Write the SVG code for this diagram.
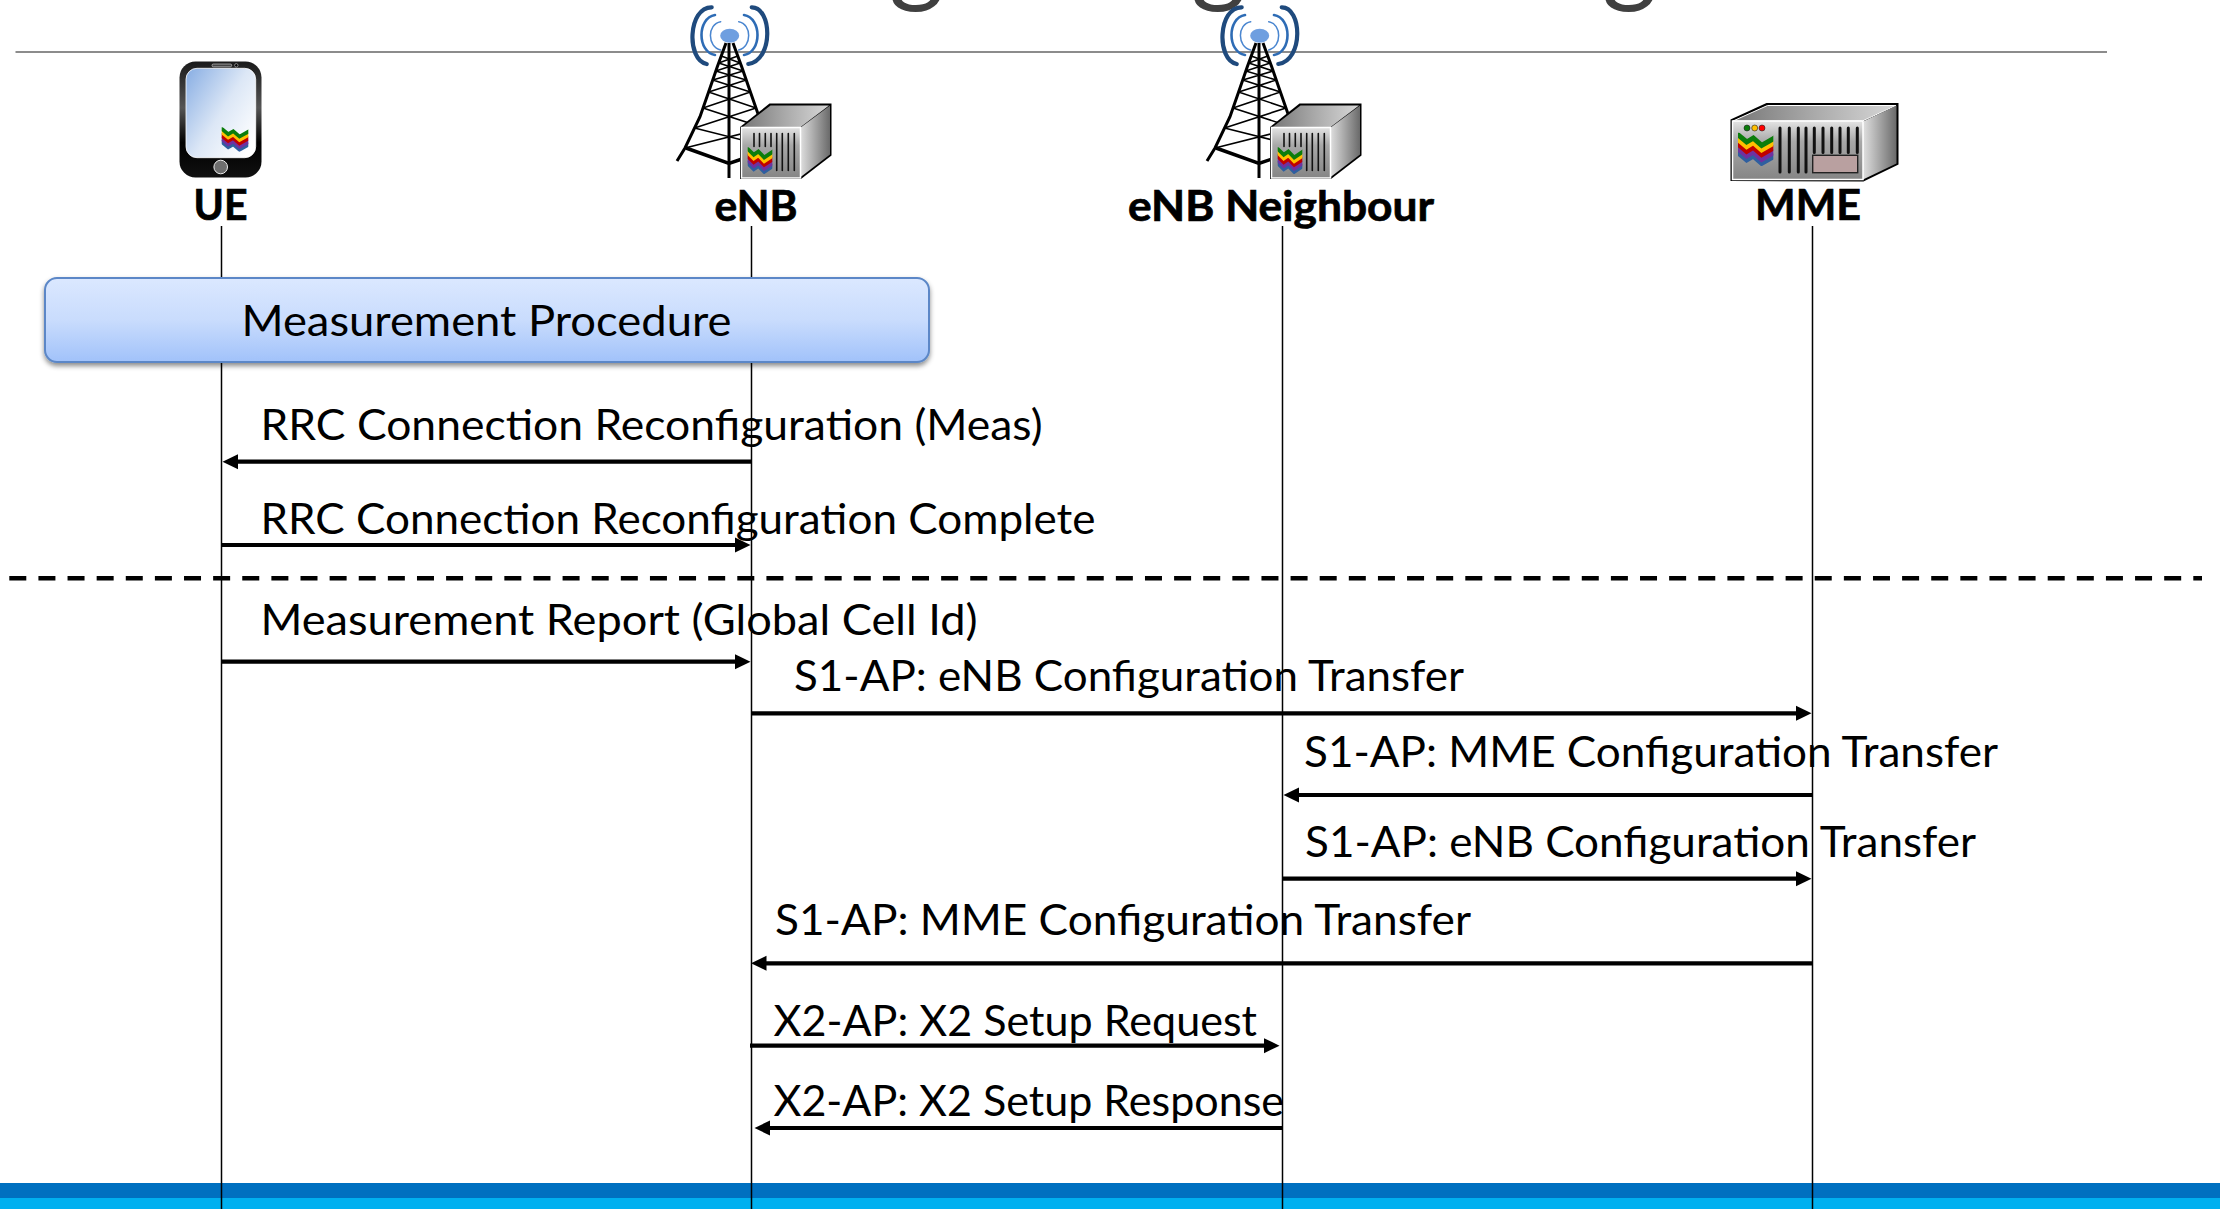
<svg xmlns="http://www.w3.org/2000/svg" xmlns:xlink="http://www.w3.org/1999/xlink" width="2220" height="1209" viewBox="0 0 2220 1209">
<style>
text{font-family:"Lato","Liberation Sans",sans-serif;fill:#000}
.lbl{font-size:42px}
.nm{font-size:42px;font-weight:700;stroke:#000;stroke-width:0.7px}
.title{font-size:106px;fill:#404040}
.life{stroke:#000;stroke-width:1.5;fill:none}
.arr{stroke:#000;stroke-width:4.2;fill:none}
.r{marker-end:url(#head)}
.slot{stroke:#111;fill:none;stroke-linecap:round}
.face{stroke:none}
</style>
<defs>
<marker id="head" markerUnits="userSpaceOnUse" markerWidth="16" markerHeight="16" refX="5" refY="8" orient="auto"><path d="M0,0.5 L15.5,8 L0,15.5 z" fill="#000"/></marker>
<linearGradient id="boxG" x1="0" y1="0" x2="0" y2="1"><stop offset="0" stop-color="#dbe8ff"/><stop offset="0.5" stop-color="#c9dcfd"/><stop offset="1" stop-color="#a1c2fa"/></linearGradient>
<linearGradient id="screenG" x1="0" y1="0" x2="1" y2="0.8"><stop offset="0" stop-color="#87ade3"/><stop offset="0.55" stop-color="#dce7f6"/><stop offset="1" stop-color="#fff"/></linearGradient>
<linearGradient id="phoneG" x1="0" y1="0" x2="0" y2="1"><stop offset="0" stop-color="#1a1a1a"/><stop offset="0.4" stop-color="#555"/><stop offset="0.7" stop-color="#000"/><stop offset="1" stop-color="#111"/></linearGradient>
<linearGradient id="topG" x1="0" y1="0" x2="1" y2="0"><stop offset="0" stop-color="#777"/><stop offset="0.5" stop-color="#aaa"/><stop offset="1" stop-color="#d8d8d8"/></linearGradient>
<linearGradient id="sideG" x1="0" y1="0" x2="1" y2="0"><stop offset="0" stop-color="#e0e0e0"/><stop offset="1" stop-color="#6a6a6a"/></linearGradient>
<linearGradient id="frontG" x1="0" y1="0" x2="0" y2="1"><stop offset="0" stop-color="#e4e4e4"/><stop offset="0.35" stop-color="#a8a8a8"/><stop offset="1" stop-color="#858585"/></linearGradient>
<filter id="sh" x="-3%" y="-10%" width="106%" height="125%"><feDropShadow dx="0" dy="3" stdDeviation="2.5" flood-color="#000" flood-opacity="0.45"/></filter>
<symbol id="wave" viewBox="0 0 106 100" preserveAspectRatio="none">
<g fill="none" stroke-width="15" stroke-linejoin="miter">
<path stroke="#2f5f9f" d="M-10,54 L0,60 L26,82 L46,70 L71,92 L106,72 L116,66"/>
<path stroke="#7030a0" d="M-10,42 L0,48 L26,70 L46,58 L71,80 L106,60 L116,54"/>
<path stroke="#c00000" d="M-10,28 L0,34 L26,56 L46,44 L71,66 L106,46 L116,40"/>
<path stroke="#ffc000" d="M-10,14 L0,20 L26,42 L46,30 L71,52 L106,32 L116,26"/>
<path stroke="#0b7d0b" d="M-10,0 L0,6 L26,28 L46,16 L71,38 L106,18 L116,12"/>
</g>
</symbol>
<g id="tower">
<path fill="none" stroke="#000" stroke-width="3" d="M726,43 L717.3,66.7 L710,88 L700,116.7 L685,148 L677,161"/>
<path fill="none" stroke="#000" stroke-width="3" d="M733,43 L741.7,66.7 L749,88 L759,116.7 L770,140"/>
<path fill="none" stroke="#000" stroke-width="1.6" d="M721.2,56 L740.3,63 M737.8,56 L718.7,63 M718.7,63 L743.2,71 M740.3,63 L715.8,71 M715.8,71 L746.2,80 M743.2,71 L712.8,80 M712.8,80 L750.4,92 M746.2,80 L708.6,92 M708.6,92 L756,108 M750.4,92 L703,108 M703,108 L764.5,128 M756,108 L694.5,128 M694.5,128 L774,148 M764.5,128 L685,148"/>
<path fill="none" stroke="#000" stroke-width="3" d="M729,43 V178"/>
<path fill="none" stroke="#000" stroke-width="3.5" d="M686,148 L729,163.3 L745,158"/>
<ellipse cx="729.7" cy="35.7" rx="9.5" ry="7" fill="#6f9fe0"/>
<g fill="none" stroke-linecap="round">
<path stroke="#4a86d0" stroke-width="1.5" d="M720.7,21.7 C707,24 707,47 720.7,50 M738.7,21.7 C752,24 752,47 738.7,50"/>
<path stroke="#2e6cb5" stroke-width="2.6" d="M715,15 C697,18 697,52 715,55 M744,15 C762,18 762,52 744,55"/>
<path stroke="#1f4a7d" stroke-width="4.2" d="M711.7,7.3 C688,7 686,60 706.7,64 M751.7,7.3 C772,7 774,60 748.3,64"/>
</g>
<path class="face" fill="#000" d="M740,179 V127 L769.5,103.5 H831.5 V155.5 L801,179 z"/>
<path class="face" fill="url(#topG)" d="M742,127.5 L770.5,105.5 H829 L800,127.5 z" stroke="#fff"/>
<path class="face" fill="url(#sideG)" d="M800,128 L830,105.5 V154.5 L800,177.5 z"/>
<rect x="741.5" y="127.5" width="59" height="50.5" fill="url(#frontG)" stroke="#fff" stroke-width="1.5"/>
<path class="slot" stroke-width="1.6" d="M754,133.5 V146.5 M759.5,133.5 V146.5 M765.3,133.5 V146.5 M771,133.5 V146.5 M776.7,133.5 V170.5 M782.3,133.5 V170.5 M788.3,133.5 V170.5 M794.3,133.5 V170.5"/>
<use xlink:href="#wave" href="#wave" x="747.7" y="147.3" width="24.6" height="26.7"/>
</g>
</defs>
<rect width="2220" height="1209" fill="#fff"/>
<g id="title-fragment">
<text class="title" x="889" y="-8">g</text>
<text class="title" x="1191" y="-8">g</text>
<text class="title" x="1602" y="-8">g</text>
</g>
<line x1="15.5" y1="52" x2="2107" y2="52" stroke="#8c8c8c" stroke-width="2"/>
<rect x="0" y="1183" width="2220" height="15" fill="#0070c0"/>
<rect x="0" y="1198" width="2220" height="11" fill="#00b0f0"/>
<g id="node-ue">
<line class="life" x1="221.5" y1="226" x2="221.5" y2="1209"/>
<rect x="179.5" y="61.5" width="82" height="116" rx="16" fill="url(#phoneG)"/>
<rect x="186" y="68.3" width="69.7" height="89.4" rx="11" fill="url(#screenG)" stroke="#fff" stroke-width="0.8"/>
<rect x="212" y="64" width="19.7" height="2.8" rx="1.4" fill="#444" stroke="#ddd" stroke-width="0.6"/>
<circle cx="236.3" cy="65.3" r="1.7" fill="#000" stroke="#ccc" stroke-width="0.6"/>
<circle cx="220.7" cy="167" r="6.8" fill="#6e6e6e" stroke="#eee" stroke-width="1"/>
<use xlink:href="#wave" href="#wave" x="221.7" y="127.3" width="26.6" height="24.4"/>
<text class="nm" x="193.5" y="220" textLength="54" lengthAdjust="spacingAndGlyphs">UE</text>
</g>
<g id="node-enb">
<line class="life" x1="751.5" y1="226" x2="751.5" y2="1209"/>
<use xlink:href="#tower" href="#tower"/>
<text class="nm" x="714.5" y="221" textLength="83" lengthAdjust="spacingAndGlyphs">eNB</text>
</g>
<g id="node-enb-neighbour">
<line class="life" x1="1282.5" y1="226" x2="1282.5" y2="1209"/>
<use xlink:href="#tower" href="#tower" transform="translate(530,0)"/>
<text class="nm" x="1128" y="221" textLength="306" lengthAdjust="spacingAndGlyphs">eNB Neighbour</text>
</g>
<g id="node-mme">
<line class="life" x1="1812.5" y1="226" x2="1812.5" y2="1209"/>
<path fill="#000" d="M1730.5,181 V119.5 L1766.5,103 H1898.5 V164.5 L1863.5,181.5 z"/>
<path fill="url(#topG)" stroke="#fff" d="M1733,121 L1767.5,105.5 H1896 L1862.5,121 z"/>
<path fill="url(#sideG)" d="M1863,121.5 L1896.5,105.5 V163.5 L1863,179.5 z"/>
<rect x="1732.5" y="121" width="130.5" height="58.5" fill="url(#frontG)" stroke="#fff" stroke-width="1.5"/>
<circle cx="1747" cy="128" r="3" fill="#0b7d0b" stroke="#222" stroke-width="0.6"/>
<circle cx="1754.7" cy="128" r="3" fill="#ffc000" stroke="#222" stroke-width="0.6"/>
<circle cx="1762" cy="128" r="3" fill="#ff0000" stroke="#222" stroke-width="0.6"/>
<path class="slot" stroke-width="3" d="M1780,128 V172 M1789.3,128 V172 M1798.3,128 V172 M1806,128 V172 M1814.3,128 V152.5 M1823,128 V152.5 M1831.7,128 V152.5 M1840,128 V152.5 M1848.3,128 V152.5 M1857.3,128 V152.5"/>
<rect x="1812.7" y="155.3" width="45" height="17.4" fill="#b9a0a0" stroke="#222" stroke-width="1.4"/>
<use xlink:href="#wave" href="#wave" x="1738" y="132.7" width="35.3" height="33.3"/>
<text class="nm" x="1755" y="220" textLength="106" lengthAdjust="spacingAndGlyphs">MME</text>
</g>
<g id="node-measurement">
<rect x="45" y="278" width="884" height="84" rx="12" fill="url(#boxG)" stroke="#5b87c7" stroke-width="2" filter="url(#sh)"/>
<text class="lbl" x="241.5" y="336" textLength="490" lengthAdjust="spacingAndGlyphs">Measurement Procedure</text>
</g>
<g id="connectors">
<line class="arr r" x1="751" y1="461.7" x2="233" y2="461.7"/>
<line class="arr r" x1="222" y1="545" x2="740" y2="545"/>
<line x1="9.3" y1="578.3" x2="2202" y2="578.3" stroke="#000" stroke-width="4.6" stroke-dasharray="17 12.12"/>
<line class="arr r" x1="222" y1="661.7" x2="740" y2="661.7"/>
<line class="arr r" x1="752" y1="713.3" x2="1801" y2="713.3"/>
<line class="arr r" x1="1813" y1="795" x2="1294" y2="795"/>
<line class="arr r" x1="1282" y1="878.7" x2="1801" y2="878.7"/>
<line class="arr r" x1="1813" y1="963.3" x2="761.5" y2="963.3"/>
<line class="arr r" x1="750" y1="1045.7" x2="1269" y2="1045.7"/>
<line class="arr r" x1="1282" y1="1128" x2="765" y2="1128"/>
<g id="connector-labels">
<text class="lbl" x="260.5" y="439.5" textLength="782" lengthAdjust="spacingAndGlyphs">RRC Connection Reconfiguration (Meas)</text>
<text class="lbl" x="260.5" y="533.5" textLength="835" lengthAdjust="spacingAndGlyphs">RRC Connection Reconfiguration Complete</text>
<text class="lbl" x="260.5" y="634.5" textLength="717" lengthAdjust="spacingAndGlyphs">Measurement Report (Global Cell Id)</text>
<text class="lbl" x="794" y="691" textLength="670" lengthAdjust="spacingAndGlyphs">S1-AP: eNB Configuration Transfer</text>
<text class="lbl" x="1304" y="767" textLength="694" lengthAdjust="spacingAndGlyphs">S1-AP: MME Configuration Transfer</text>
<text class="lbl" x="1305" y="856.5" textLength="671" lengthAdjust="spacingAndGlyphs">S1-AP: eNB Configuration Transfer</text>
<text class="lbl" x="775" y="935" textLength="696" lengthAdjust="spacingAndGlyphs">S1-AP: MME Configuration Transfer</text>
<text class="lbl" x="773.5" y="1035.5" textLength="483.5" lengthAdjust="spacingAndGlyphs">X2-AP: X2 Setup Request</text>
<text class="lbl" x="773.5" y="1116" textLength="510.5" lengthAdjust="spacingAndGlyphs">X2-AP: X2 Setup Response</text>
</g>
</g>
</svg>
